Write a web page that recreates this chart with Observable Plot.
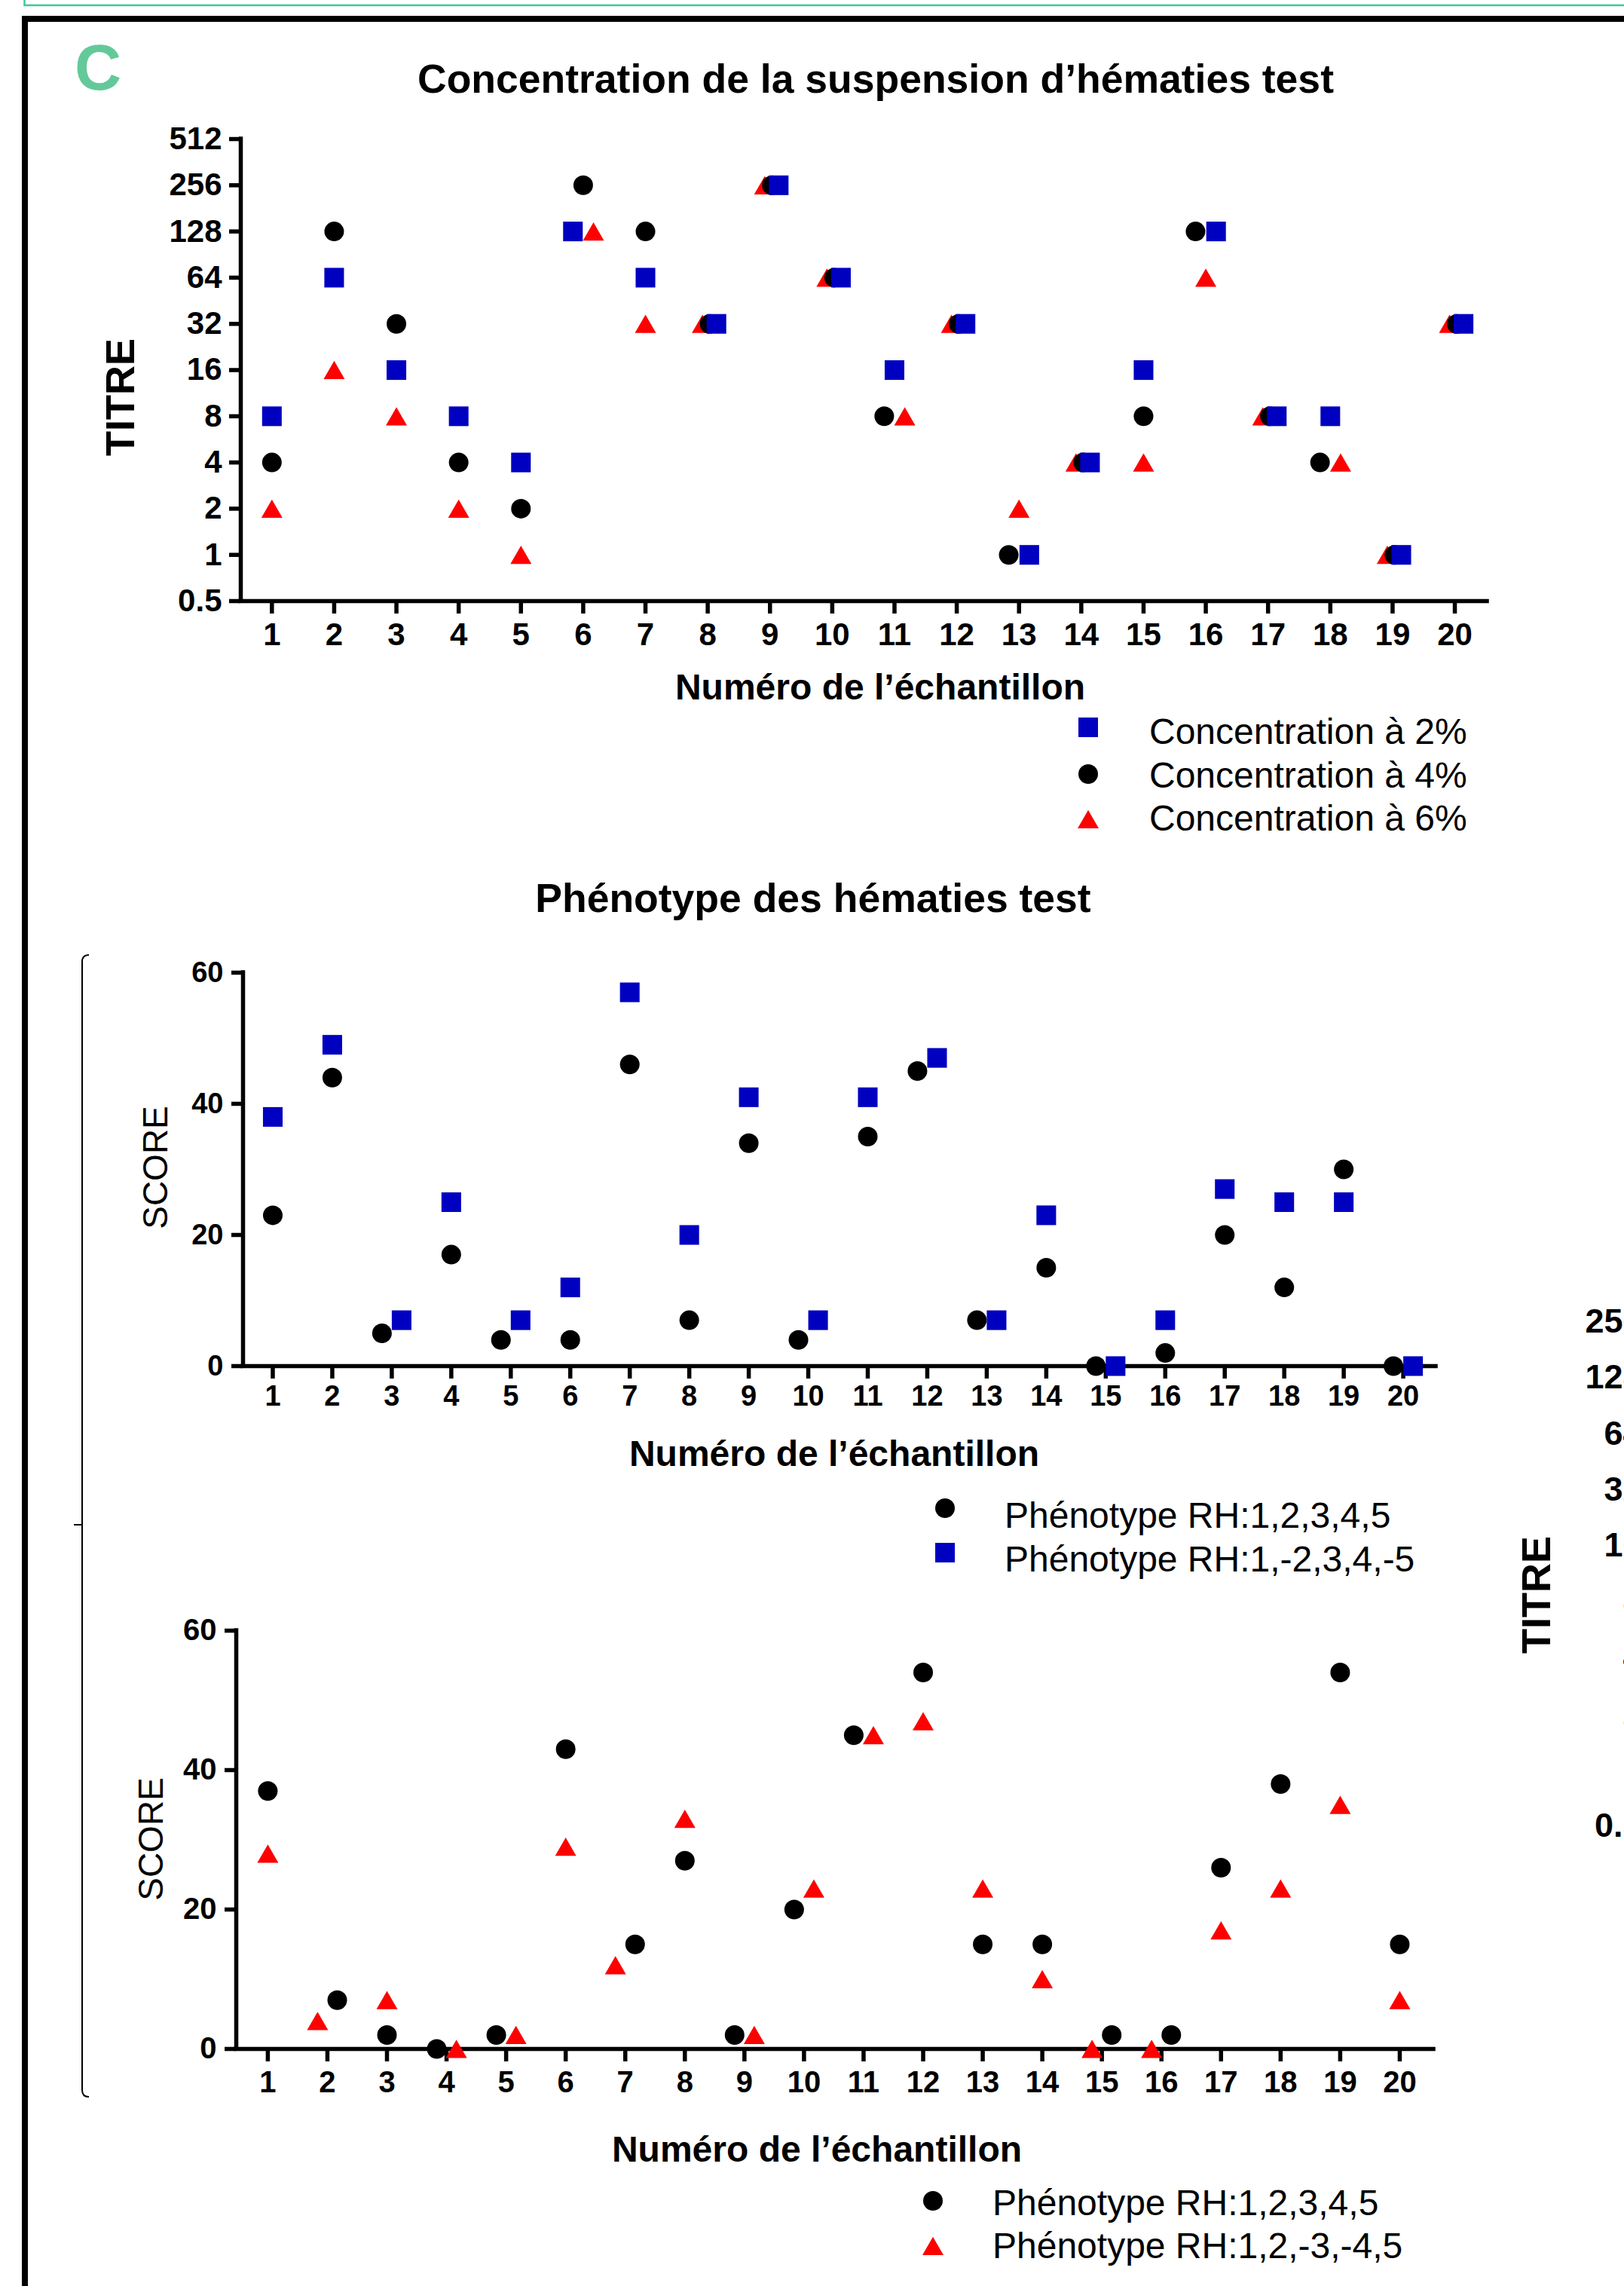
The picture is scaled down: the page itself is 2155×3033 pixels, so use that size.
<!DOCTYPE html>
<html><head><meta charset="utf-8">
<script src="https://cdn.jsdelivr.net/npm/d3@7"></script>
<script src="https://cdn.jsdelivr.net/npm/@observablehq/plot@0.6"></script>
<style>
html,body{margin:0;padding:0;overflow:hidden;background:#fff;}
#page{position:relative;width:2155px;height:3033px;overflow:hidden;background:#fff;}
#page svg{position:absolute;background:transparent !important;max-width:none !important;overflow:visible;}
</style></head><body><div id="page"></div>
<script>
// ---------------- DATA ----------------
const samples = [1,2,3,4,5,6,7,8,9,10,11,12,13,14,15,16,17,18,19,20];
// Panel 1 : titre selon la concentration de la suspension
const titreConc2 = [8,64,16,8,4,128,64,32,256,64,16,32,1,4,16,128,8,8,1,32];
const titreConc4 = [4,128,32,4,2,256,128,32,256,64,8,32,1,4,8,128,8,4,1,32];
const titreConc6 = [2,16,8,2,1,128,32,32,256,64,8,32,2,4,4,64,8,4,1,32];
// Panel 2 : score selon le phénotype
const scoreRH12345a = [23,44,5,17,4,4,46,7,34,4,35,45,7,15,0,2,20,12,30,0];
const scoreRHm2m5 = [38,49,7,25,7,12,57,20,41,7,41,47,7,23,0,7,27,25,25,0];
// Panel 3 : score selon le phénotype
const scoreRH12345b = [37,7,2,0,2,43,15,27,2,20,45,54,15,15,2,2,26,38,54,15];
const scoreRHm3m4 = [28,4,7,0,2,29,12,33,2,23,45,47,23,10,0,0,17,23,35,7];
// Tick labels
const titreTicks = [0.5,1,2,4,8,16,32,64,128,256,512];
const titreTicksRight = [0.5,1,2,4,8,16,32,64,128,256];
const scoreTicks = [0,20,40,60];
// Texts
const txtC = "C";
const title1 = "Concentration de la suspension d’hématies test";
const title2 = "Phénotype des hématies test";
const xLabel = "Numéro de l’échantillon";
const yLabelTitre = "TITRE";
const yLabelScore = "SCORE";
const legend1 = ["Concentration à 2%", "Concentration à 4%", "Concentration à 6%"];
const legend2 = ["Phénotype RH:1,2,3,4,5", "Phénotype RH:1,-2,3,4,-5"];
const legend3 = ["Phénotype RH:1,2,3,4,5", "Phénotype RH:1,2,-3,-4,5"];

// ---------------- STYLE ----------------
const W = 2155;
const FONT = '"Liberation Sans", Arial, Helvetica, sans-serif';
const BLUE = "#0000c0", RED = "#ff0000", BLACK = "#000000";
const SYM = {
  square: {symbol: "square", r: 14.7, dy: 0},
  circle: {symbol: "circle", r: 13, dy: 0},
  triangle: {symbol: "triangle", r: 10.4, dy: 4}
};
const AXW = 5.5;
const page = document.getElementById("page");

// Horizontal dodge of overlapping points (GraphPad-like scatter)
function dodge(series, isClose, tripleOrder) {
  const pts = [];
  series.forEach((s, si) => s.values.forEach((v, i) =>
    pts.push({key: s.key, rank: si, sample: samples[i], value: v, off: 0})));
  for (const smp of samples) {
    const g = pts.filter(p => p.sample === smp).sort((a, b) => a.value - b.value || a.rank - b.rank);
    const clusters = [];
    for (const p of g) {
      const last = clusters[clusters.length - 1];
      if (last && isClose(last[last.length - 1].value, p.value)) last.push(p); else clusters.push([p]);
    }
    for (const c of clusters) {
      if (c.length < 2) continue;
      let ordered = c, offs = [-0.165, 0.165];
      if (c.length === 3) {
        ordered = c.slice().sort((a, b) => tripleOrder.indexOf(a.key) - tripleOrder.indexOf(b.key));
        offs = [-0.085, 0.03, 0.14];
      }
      ordered.forEach((p, k) => p.off = offs[k]);
    }
  }
  return pts;
}

function dots(pts, key, shape, color) {
  const s = SYM[shape];
  return Plot.dot(pts.filter(p => p.key === key), {
    x: p => p.sample + p.off, y: "value", symbol: s.symbol, r: s.r, dy: s.dy,
    fill: color, stroke: "none"
  });
}

function panel({top, height, frame, xDomain, yScale, yTicks, yMin, fontSize, xPad, yPad, marks}) {
  const svg = Plot.plot({
    width: W, height,
    marginLeft: frame.left, marginRight: W - frame.right,
    marginTop: frame.top - top, marginBottom: top + height - frame.bottom,
    x: {domain: xDomain},
    y: yScale,
    style: {background: "transparent", overflow: "visible", fontFamily: FONT, color: "#000"},
    marks: [
      Plot.axisX(samples, {anchor: "bottom", tickSize: 17, tickPadding: xPad, strokeWidth: AXW,
        fontSize, fontWeight: "bold", label: null, tickFormat: d => String(d)}),
      Plot.axisY(yTicks, {anchor: "left", tickSize: 15, tickPadding: yPad, strokeWidth: AXW,
        fontSize, fontWeight: "bold", label: null, tickFormat: d => String(d)}),
      Plot.ruleX([xDomain[0]], {stroke: BLACK, strokeWidth: AXW, strokeLinecap: "square"}),
      Plot.ruleY([yMin], {stroke: BLACK, strokeWidth: AXW, strokeLinecap: "square"}),
      ...marks
    ]
  });
  svg.style.left = "0px";
  svg.style.top = top + "px";
  page.appendChild(svg);
}

// ---------------- OVERLAY (frame, titles, labels, legends) ----------------
const ov = d3.create("svg").attr("width", W).attr("height", 3033)
  .style("left", "0px").style("top", "0px").style("font-family", FONT);
page.appendChild(ov.node());
ov.append("path").attr("d", "M32.5,0 V7 H2160").attr("fill", "none").attr("stroke", "#3cc8a0").attr("stroke-width", 2.5);
ov.append("path").attr("d", "M2170,25 H33 V3050").attr("fill", "none").attr("stroke", "#000").attr("stroke-width", 8);
ov.append("path").attr("d", "M118,1267 Q109,1267 109,1276 V2773 Q109,2782 118,2782 M98,2023 H109")
  .attr("fill", "none").attr("stroke", "#000").attr("stroke-width", 2);

function text(t, x, y, size, weight, opts = {}) {
  const el = ov.append("text").text(t).attr("x", x).attr("y", y)
    .attr("font-size", size).attr("font-weight", weight)
    .attr("text-anchor", opts.anchor || "middle").attr("fill", opts.fill || "#000");
  if (opts.rotate) el.attr("transform", `rotate(-90 ${x} ${y})`);
  return el;
}
text(txtC, 130, 119, 86, "bold", {fill: "#64c99a"});
text(title1, 1162, 123, 53.5, "bold");
text(title2, 1079, 1210, 53.5, "bold");
text(xLabel, 1168, 928, 48, "bold");
text(xLabel, 1107, 1945, 48, "bold");
text(xLabel, 1084, 2868, 48, "bold");
text(yLabelTitre, 178, 527, 54, "bold", {rotate: true});
text(yLabelScore, 222, 1549, 46, "normal", {rotate: true});
text(yLabelScore, 216, 2440, 46, "normal", {rotate: true});
text(yLabelTitre, 2057, 2116, 54, "bold", {rotate: true});

function legendMarker(shape, color, x, y) {
  const s = SYM[shape];
  const type = {square: d3.symbolSquare, circle: d3.symbolCircle, triangle: d3.symbolTriangle}[shape];
  ov.append("path").attr("d", d3.symbol(type, s.r * s.r * Math.PI)())
    .attr("transform", `translate(${x},${y + s.dy})`).attr("fill", color);
}
function legend(items, mx, tx, ys, baselines) {
  items.forEach((it, i) => {
    legendMarker(it.shape, it.color, mx, ys[i]);
    text(it.label, tx, baselines[i], 48, "normal", {anchor: "start"});
  });
}
legend([{shape: "square", color: BLUE, label: legend1[0]},
        {shape: "circle", color: BLACK, label: legend1[1]},
        {shape: "triangle", color: RED, label: legend1[2]}],
  1444, 1525, [965, 1027, 1087], [987, 1045, 1102]);
legend([{shape: "circle", color: BLACK, label: legend2[0]},
        {shape: "square", color: BLUE, label: legend2[1]}],
  1254, 1333, [2001, 2060], [2027, 2085]);
legend([{shape: "circle", color: BLACK, label: legend3[0]},
        {shape: "triangle", color: RED, label: legend3[1]}],
  1238, 1317, [2920, 2980], [2939, 2996]);

// ---------------- PANEL 1 ----------------
const p1 = dodge([
  {key: "c4", values: titreConc4},
  {key: "c2", values: titreConc2},
  {key: "c6", values: titreConc6}
], (a, b) => a === b, ["c6", "c4", "c2"]);
panel({
  top: 140, height: 820, frame: {left: 319, right: 1973, top: 184, bottom: 797},
  xDomain: [0.5, 20.52], yScale: {type: "log", base: 2, domain: [0.5, 512]},
  yTicks: titreTicks, yMin: 0.5, fontSize: 42, xPad: 12, yPad: 10,
  marks: [dots(p1, "c6", "triangle", RED), dots(p1, "c4", "circle", BLACK), dots(p1, "c2", "square", BLUE)]
});

// ---------------- PANEL 2 ----------------
const p2 = dodge([
  {key: "a", values: scoreRH12345a},
  {key: "b", values: scoreRHm2m5}
], (a, b) => Math.abs(a - b) <= 3, []);
panel({
  top: 1240, height: 640, frame: {left: 322, right: 1905, top: 1290, bottom: 1812},
  xDomain: [0.5, 20.55], yScale: {domain: [0, 60]},
  yTicks: scoreTicks, yMin: 0, fontSize: 38, xPad: 9, yPad: 11,
  marks: [dots(p2, "a", "circle", BLACK), dots(p2, "b", "square", BLUE)]
});

// ---------------- PANEL 3 ----------------
const p3 = dodge([
  {key: "a", values: scoreRH12345b},
  {key: "c", values: scoreRHm3m4}
], (a, b) => Math.abs(a - b) <= 3, []);
panel({
  top: 2110, height: 700, frame: {left: 313, right: 1902, top: 2163, bottom: 2718},
  xDomain: [0.47, 20.57], yScale: {domain: [0, 60]},
  yTicks: scoreTicks, yMin: 0, fontSize: 40, xPad: 12, yPad: 11,
  marks: [dots(p3, "a", "circle", BLACK), dots(p3, "c", "triangle", RED)]
});

// ---------------- PANEL 4 (cut off at the right edge, as in the reference) ----------------
const p4 = Plot.plot({
  width: 400, height: 780, marginLeft: 260, marginRight: 60, marginTop: 53, marginBottom: 58,
  y: {type: "log", base: 2, domain: [0.5, 256]},
  style: {background: "transparent", overflow: "visible", fontFamily: FONT, color: "#000"},
  marks: [
    Plot.axisY(titreTicksRight, {anchor: "left", tickSize: 15, tickPadding: 17, strokeWidth: AXW,
      fontSize: 45, fontWeight: "bold", label: null, tickFormat: d => String(d)})
  ]
});
p4.style.left = "1950px";
p4.style.top = "1700px";
page.appendChild(p4);
</script>
</body></html>
